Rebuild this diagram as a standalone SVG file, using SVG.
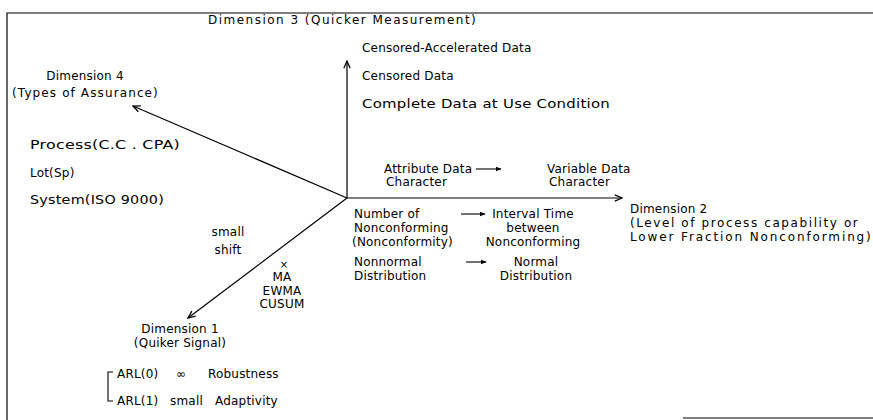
<svg xmlns="http://www.w3.org/2000/svg" width="873" height="420" viewBox="0 0 873 420">
<style>
text{font-family:"DejaVu Sans","Liberation Sans",sans-serif;font-size:12px;fill:#000;letter-spacing:0.2px}
.t{font-size:12px}
.m{text-anchor:middle}
.ln{stroke:#000;stroke-width:1.2;fill:none}
.sm{stroke:#000;stroke-width:1.1;fill:none}
</style>
<defs>
<marker id="ah" viewBox="0 0 10 10" refX="9" refY="5" markerWidth="9" markerHeight="9" orient="auto" markerUnits="userSpaceOnUse">
<path d="M1,1.5 L9,5 L1,8.5" fill="none" stroke="#000" stroke-width="1.4"/>
</marker>
<marker id="sh" viewBox="0 0 10 10" refX="9" refY="5" markerWidth="6" markerHeight="6" orient="auto" markerUnits="userSpaceOnUse">
<path d="M0,1 L10,5 L0,9 z" fill="#000"/>
</marker>
</defs>
<rect width="873" height="420" fill="#fff"/>
<g id="frame" class="ln">
<path d="M7,420 L7,13 L873,13"/>
<path d="M683,418 L873,418"/>
</g>
<g id="connectors">
<line class="ln" x1="347" y1="198" x2="347" y2="61" marker-end="url(#ah)"/>
<line class="ln" x1="347" y1="198" x2="622" y2="198" marker-end="url(#ah)"/>
<line class="ln" x1="347" y1="198" x2="133" y2="106" marker-end="url(#ah)"/>
<line class="ln" x1="347" y1="198" x2="188" y2="318" marker-end="url(#ah)"/>
<line class="sm" x1="476" y1="169" x2="501" y2="169" marker-end="url(#sh)"/>
<line class="sm" x1="461" y1="214" x2="485" y2="214" marker-end="url(#sh)"/>
<line class="sm" x1="466" y1="262" x2="486" y2="262" marker-end="url(#sh)"/>
<path class="sm" d="M113,372 L108,372 L108,401 L113,401"/>
</g>
<g id="dim3">
<text class="t" x="208" y="24" textLength="268" lengthAdjust="spacing">Dimension 3 (Quicker Measurement)</text>
<text x="362" y="52">Censored-Accelerated Data</text>
<text x="362" y="80">Censored Data</text>
<text x="362" y="108" textLength="248" lengthAdjust="spacingAndGlyphs">Complete Data at Use Condition</text>
</g>
<g id="dim4">
<text class="t m" x="85" y="80">Dimension 4</text>
<text class="t" x="12" y="97" textLength="146" lengthAdjust="spacing">(Types of Assurance)</text>
<text x="30" y="149" textLength="150" lengthAdjust="spacingAndGlyphs">Process(C.C . CPA)</text>
<text x="30" y="177">Lot(Sp)</text>
<text x="30" y="204" textLength="134" lengthAdjust="spacingAndGlyphs">System(ISO 9000)</text>
</g>
<g id="dim2">
<text x="384" y="173">Attribute Data</text>
<text x="386" y="186">Character</text>
<text x="547" y="173">Variable Data</text>
<text x="549" y="186">Character</text>
<text class="t" x="630" y="213">Dimension 2</text>
<text class="t" x="630" y="227" textLength="228" lengthAdjust="spacing">(Level of process capability or</text>
<text class="t" x="630" y="241" textLength="241" lengthAdjust="spacing">Lower Fraction Nonconforming)</text>
<text x="354" y="218">Number of</text>
<text x="354" y="232">Nonconforming</text>
<text x="352" y="246">(Nonconformity)</text>
<text class="m" x="533" y="218">Interval Time</text>
<text class="m" x="533" y="232">between</text>
<text class="m" x="533" y="246">Nonconforming</text>
<text x="354" y="266">Nonnormal</text>
<text x="354" y="280">Distribution</text>
<text class="m" x="536" y="266">Normal</text>
<text class="m" x="536" y="280">Distribution</text>
</g>
<g id="dim1">
<text class="m" x="228" y="236">small</text>
<text class="m" x="228" y="254">shift</text>
<text class="m" x="284" y="268" style="font-size:10px">×</text>
<text class="m" x="282" y="281">MA</text>
<text class="m" x="282" y="295">EWMA</text>
<text class="m" x="282" y="308">CUSUM</text>
<text class="t m" x="180" y="333">Dimension 1</text>
<text class="t m" x="180" y="347">(Quiker Signal)</text>
<text x="117" y="378">ARL(0)</text>
<text x="176" y="378">∞</text>
<text x="208" y="378">Robustness</text>
<text x="117" y="405">ARL(1)</text>
<text x="170" y="405">small</text>
<text x="215" y="405">Adaptivity</text>
</g>
</svg>
